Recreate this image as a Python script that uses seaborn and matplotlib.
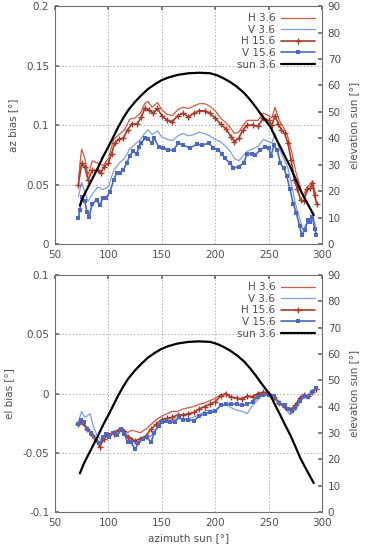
import numpy as np
import pandas as pd
import matplotlib
matplotlib.use("Agg")
import matplotlib.pyplot as plt
import seaborn as sns

# ---------------- data ----------------
# sun elevation (both panels)
sun_az = [73.4, 77, 81.2, 86, 90.6, 95, 100, 105, 109.4, 114, 118.7, 125, 131.2, 137, 143.7, 150, 156.2, 165, 175, 185,
          195.3, 202, 207.8, 214, 220.3, 227, 232.8, 238, 242.2, 247, 251.6, 256, 260.9, 265.5, 270.3, 275, 279.7, 286, 292.2]
sun_el = [14.7, 18.3, 21.7, 25.5, 29.2, 33, 36.8, 40.8, 44.4, 47.7, 50.7, 53.8, 56.4, 58.6, 60.5, 62, 63, 64, 64.6, 64.8,
          64.6, 63.8, 62.7, 61.3, 59.5, 57.2, 54.5, 51.8, 49.4, 46.8, 44.4, 40.7, 36.8, 33, 29.2, 24.9, 20.4, 15.6, 11]

# top panel: az bias
az_v15_x = [72, 73.4, 75, 78, 80, 82, 85, 89, 92, 95, 98, 101.5, 105, 108, 111, 114, 117, 120, 123, 126.5, 129, 131, 134, 137.5,
            140.6, 143, 147, 151.5, 156, 161, 165.6, 170, 176.5, 183, 187.5, 194, 198, 203, 206, 209, 214, 217, 222, 226.5,
            230, 234, 237.5, 242, 247, 250, 252, 255, 258, 261, 264, 267, 270, 273, 276, 279, 281, 284, 286.5, 289, 291, 293, 294.7]
az_v15_y = [0.022, 0.029, 0.040, 0.036, 0.027, 0.023, 0.034, 0.037, 0.033, 0.039, 0.039, 0.044, 0.054, 0.060, 0.060, 0.062, 0.068,
            0.074, 0.078, 0.076, 0.082, 0.085, 0.089, 0.088, 0.085, 0.089, 0.082, 0.081, 0.079, 0.079, 0.085, 0.083, 0.081, 0.084,
            0.083, 0.085, 0.081, 0.079, 0.076, 0.072, 0.068, 0.064, 0.065, 0.068, 0.076, 0.076, 0.075, 0.079, 0.082, 0.081, 0.074,
            0.083, 0.079, 0.068, 0.064, 0.057, 0.046, 0.034, 0.026, 0.015, 0.008, 0.012, 0.020, 0.019, 0.023, 0.013, 0.008]

az_h15_x = [72, 75, 78, 81, 85, 90, 93, 96, 100, 103, 106, 110, 114, 118, 122, 127, 131, 134, 138, 142, 146, 150, 155, 160, 165,
            170, 175, 180, 185, 190, 195, 200, 205, 210, 215, 218, 222, 226, 230, 235, 240, 245, 250, 253, 256, 259, 262, 265,
            268, 271, 274, 277, 280, 283, 286, 289, 291, 293, 295]
az_h15_y = [0.050, 0.068, 0.065, 0.054, 0.062, 0.062, 0.060, 0.065, 0.068, 0.076, 0.085, 0.088, 0.089, 0.096, 0.101, 0.101, 0.107,
            0.114, 0.113, 0.110, 0.114, 0.108, 0.104, 0.103, 0.108, 0.110, 0.107, 0.110, 0.112, 0.112, 0.110, 0.106, 0.101, 0.097,
            0.090, 0.086, 0.089, 0.096, 0.100, 0.100, 0.099, 0.106, 0.104, 0.100, 0.108, 0.101, 0.096, 0.093, 0.085, 0.071, 0.054,
            0.046, 0.037, 0.036, 0.046, 0.047, 0.051, 0.041, 0.034]

az_h3_x = [72, 75, 78, 81, 85, 90, 95, 100, 105, 110, 115, 120, 125, 130, 134, 137, 141, 146, 150, 155, 160, 165, 170, 175, 180,
           185, 190, 195, 200, 205, 210, 214, 218, 222, 226, 230, 235, 240, 245, 250, 253, 256, 260, 264, 268, 272, 275, 279,
           282, 286, 289, 291, 294]
az_h3_y = [0.055, 0.080, 0.072, 0.058, 0.070, 0.068, 0.066, 0.072, 0.088, 0.092, 0.096, 0.105, 0.106, 0.110, 0.118, 0.120, 0.115,
           0.119, 0.113, 0.109, 0.108, 0.113, 0.115, 0.114, 0.116, 0.118, 0.118, 0.116, 0.112, 0.106, 0.102, 0.098, 0.093, 0.094,
           0.100, 0.104, 0.104, 0.104, 0.110, 0.108, 0.106, 0.115, 0.104, 0.098, 0.090, 0.076, 0.062, 0.050, 0.040, 0.048, 0.050,
           0.053, 0.042]

az_v3_x = [72, 75, 78, 81, 85, 90, 95, 100, 105, 110, 115, 120, 125, 130, 134, 137, 141, 146, 150, 155, 160, 165, 170, 175, 180,
           185, 190, 195, 200, 205, 210, 214, 218, 222, 226, 230, 235, 240, 245, 250, 253, 256, 260, 264, 268, 272, 275, 279,
           282, 286, 289, 291, 294]
az_v3_y = [0.040, 0.052, 0.044, 0.036, 0.042, 0.048, 0.046, 0.048, 0.062, 0.068, 0.072, 0.080, 0.084, 0.088, 0.093, 0.096, 0.092,
           0.095, 0.090, 0.088, 0.087, 0.091, 0.093, 0.091, 0.092, 0.094, 0.093, 0.091, 0.088, 0.086, 0.082, 0.078, 0.072, 0.070,
           0.074, 0.078, 0.080, 0.082, 0.088, 0.086, 0.085, 0.093, 0.080, 0.072, 0.064, 0.048, 0.034, 0.022, 0.012, 0.018, 0.022,
           0.025, 0.015]

# bottom panel: el bias
el_v15_x = [72, 74, 77, 80, 84, 88, 92, 95, 98, 101, 104, 108, 112, 115, 118, 121, 125, 128, 132, 136, 140, 143, 147, 150, 154,
            158, 162, 166, 170, 175, 180, 185, 190, 195, 200, 205, 210, 215, 220, 225, 230, 235, 240, 245, 250, 255, 260, 265,
            268, 272, 275, 279, 283, 287, 291, 294]
el_v15_y = [-0.026, -0.022, -0.024, -0.030, -0.033, -0.040, -0.042, -0.037, -0.034, -0.037, -0.033, -0.035, -0.030, -0.034, -0.041,
            -0.041, -0.047, -0.042, -0.038, -0.037, -0.041, -0.033, -0.027, -0.024, -0.023, -0.024, -0.024, -0.020, -0.022, -0.022,
            -0.023, -0.019, -0.017, -0.016, -0.015, -0.010, -0.009, -0.009, -0.009, -0.010, -0.009, -0.007, -0.003, -0.001, -0.001,
            -0.002, -0.008, -0.010, -0.013, -0.015, -0.012, -0.006, -0.002, -0.003, 0.001, 0.005]

el_h15_x = [72, 75, 80, 85, 89, 92, 96, 100, 105, 110, 114, 118, 122, 125, 130, 135, 140, 145, 150, 155, 160, 165, 170, 175, 180,
            185, 190, 195, 200, 205, 210, 215, 220, 225, 230, 235, 240, 245, 250, 255, 260, 265, 270, 275, 279, 283, 287, 291, 294]
el_h15_y = [-0.026, -0.024, -0.030, -0.035, -0.040, -0.045, -0.038, -0.035, -0.034, -0.031, -0.032, -0.037, -0.039, -0.040, -0.038,
            -0.036, -0.030, -0.026, -0.022, -0.021, -0.020, -0.018, -0.018, -0.017, -0.016, -0.013, -0.011, -0.009, -0.007, -0.002,
            0.000, -0.003, -0.004, -0.005, -0.002, -0.003, -0.000, 0.001, 0.000, -0.003, -0.008, -0.011, -0.014, -0.010, -0.004,
            -0.001, -0.002, 0.001, 0.004]

el_h3_x = [72, 75, 80, 85, 89, 92, 96, 100, 105, 110, 114, 118, 122, 126, 130, 135, 140, 145, 150, 155, 160, 165, 170, 175, 180,
           185, 190, 195, 200, 205, 210, 215, 220, 225, 230, 235, 240, 245, 250, 255, 260, 265, 270, 275, 279, 283, 287, 291, 294]
el_h3_y = [-0.027, -0.024, -0.029, -0.034, -0.038, -0.043, -0.037, -0.034, -0.033, -0.030, -0.030, -0.033, -0.031, -0.032, -0.033,
           -0.030, -0.026, -0.022, -0.019, -0.017, -0.015, -0.015, -0.013, -0.012, -0.011, -0.009, -0.008, -0.006, -0.004, -0.001,
           -0.001, -0.003, -0.004, -0.004, -0.003, -0.002, 0.000, 0.001, 0.001, -0.003, -0.008, -0.012, -0.014, -0.010, -0.004,
           -0.001, -0.002, 0.001, 0.004]

el_v3_x = [72, 75, 78, 80, 83, 86, 90, 94, 98, 102, 106, 110, 114, 118, 122, 126, 130, 135, 140, 145, 150, 155, 160, 165, 170,
           175, 180, 185, 190, 195, 200, 205, 210, 215, 220, 225, 230, 235, 240, 245, 250, 255, 260, 265, 270, 275, 279, 283,
           287, 291, 294]
el_v3_y = [-0.024, -0.015, -0.020, -0.019, -0.017, -0.028, -0.036, -0.040, -0.033, -0.035, -0.031, -0.032, -0.031, -0.035, -0.038,
           -0.042, -0.040, -0.036, -0.036, -0.030, -0.025, -0.023, -0.022, -0.021, -0.022, -0.021, -0.020, -0.018, -0.015, -0.014,
           -0.014, -0.011, -0.009, -0.012, -0.014, -0.015, -0.017, -0.010, -0.005, -0.001, -0.002, -0.004, -0.009, -0.012, -0.018,
           -0.014, -0.008, -0.003, -0.003, 0.000, 0.004]

labels = ["H 3.6", "V 3.6", "H 15.6", "V 15.6", "sun 3.6"]

# ---------------- style ----------------
sns.set_theme(style="white")
plt.rcParams["font.family"] = ["DejaVu Sans"]
TXT = "#505050"
SP = "#707070"
C_H3 = "#cc5a48"
C_V3 = "#7d9ee0"
C_H15 = "#a83a28"
C_V15 = "#4a68c4"

fig = plt.figure(figsize=(3.66, 5.5), dpi=100)
ax1 = fig.add_axes([0.150, 0.556, 0.730, 0.433])
ax2 = fig.add_axes([0.150, 0.069, 0.730, 0.431])


def draw(ax, h3, v3, h15, v15, ylim, yticks, yfmt, ylabel, xlabel):
    sns.lineplot(x=h3[0], y=h3[1], ax=ax, color=C_H3, lw=0.9, sort=False, estimator=None, label=labels[0], zorder=3)
    sns.lineplot(x=v3[0], y=v3[1], ax=ax, color=C_V3, lw=0.9, sort=False, estimator=None, label=labels[1], zorder=3)
    sns.lineplot(x=h15[0], y=h15[1], ax=ax, color=C_H15, lw=1.2, sort=False, estimator=None, marker="+",
                 markersize=5, markeredgewidth=1.0, markeredgecolor=C_H15, label=labels[2], zorder=4)
    sns.lineplot(x=v15[0], y=v15[1], ax=ax, color=C_V15, lw=1.2, sort=False, estimator=None, marker="s",
                 markersize=3.2, markeredgewidth=0, label=labels[3], zorder=4)
    ax.set_xlim(50, 300)
    ax.set_ylim(*ylim)
    ax.set_xticks([50, 100, 150, 200, 250, 300])
    ax.set_yticks(yticks)
    ax.set_yticklabels([yfmt(v) for v in yticks])
    ax.grid(True, color="#b0b0b0", linestyle=(0, (1.5, 2)), linewidth=0.7)
    ax.tick_params(axis="both", direction="in", length=3, color=SP, labelcolor=TXT, labelsize=7.5, pad=4,
                   top=True, right=False)
    for s in ax.spines.values():
        s.set_color(SP)
        s.set_linewidth(0.8)
    ax.set_ylabel(ylabel, color=TXT, fontsize=7.5, labelpad=6)
    ax.set_xlabel(xlabel, color=TXT, fontsize=7.5, labelpad=4)

    axr = ax.twinx()
    sns.lineplot(x=sun_az, y=sun_el, ax=axr, color="black", lw=1.6, sort=False, estimator=None, label=labels[4])
    axr.set_ylim(0, 90)
    axr.set_yticks(range(0, 91, 10))
    axr.tick_params(axis="y", direction="in", length=3, color=SP, labelcolor=TXT, labelsize=7.5, pad=4)
    axr.set_ylabel("elevation sun [°]", color=TXT, fontsize=7.5, labelpad=6)
    for s in axr.spines.values():
        s.set_visible(False)

    h1, l1 = ax.get_legend_handles_labels()
    h2, l2 = axr.get_legend_handles_labels()
    ax.get_legend().remove() if ax.get_legend() else None
    axr.get_legend().remove() if axr.get_legend() else None
    leg = axr.legend(h1 + h2, l1 + l2, loc="upper right", frameon=False, fontsize=7.5, markerfirst=False,
                     handlelength=3.2, handletextpad=0.6, labelspacing=0.15, borderaxespad=0.3,
                     bbox_to_anchor=(1.0, 1.0))
    for t in leg.get_texts():
        t.set_color(TXT)
        t.set_ha("right")
    leg.set_zorder(10)
    return axr


draw(ax1, (az_h3_x, az_h3_y), (az_v3_x, az_v3_y), (az_h15_x, az_h15_y), (az_v15_x, az_v15_y),
     (0, 0.2), [0, 0.05, 0.1, 0.15, 0.2],
     lambda v: "0" if v == 0 else f"{v:g}", "az bias [°]", "")
draw(ax2, (el_h3_x, el_h3_y), (el_v3_x, el_v3_y), (el_h15_x, el_h15_y), (el_v15_x, el_v15_y),
     (-0.1, 0.1), [-0.1, -0.05, 0, 0.05, 0.1],
     lambda v: "0" if v == 0 else f"{v:g}", "el bias [°]", "azimuth sun [°]")

fig.savefig("out.png", dpi=100)
